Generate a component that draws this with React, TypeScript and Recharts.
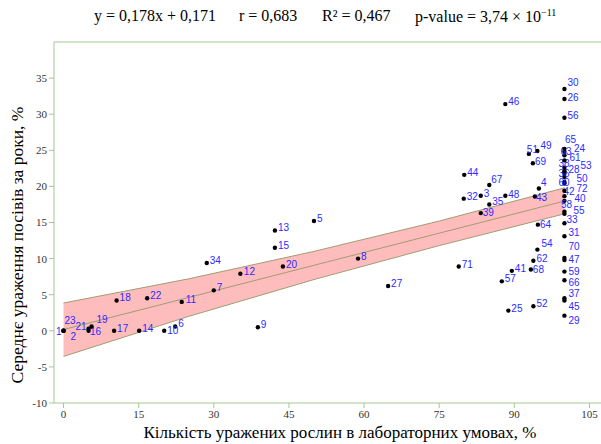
import React from "react"
import {
    Area,
    ComposedChart,
    Line,
    ReferenceLine,
    Scatter,
    XAxis,
    YAxis,
} from "recharts"

// ids of the samples, x = lab infection (%), y = mean field infection (%)
const ids = [
    1, 2, 3, 4, 5, 6, 7, 8, 9, 10, 11, 12, 13, 14, 15, 16, 17, 18, 19, 20, 21, 22, 23, 24,
    25, 26, 27, 28, 29, 30, 31, 32, 33, 34, 35, 36, 37, 38, 39, 40, 41, 42, 43, 44, 45, 46, 47, 48,
    49, 50, 51, 52, 53, 54, 55, 56, 57, 58, 59, 60, 61, 62, 63, 64, 65, 66, 67, 68, 69, 70, 71, 72,
]
const labX = [
    0, 0, 83.3, 94.9, 50.0, 22.3, 30.0, 58.8, 38.8, 20.1, 23.6, 35.3, 42.2, 15.1, 42.2, 5.0, 10.1, 10.6, 5.6, 43.8, 5.0, 16.7, 0, 100,
    88.8, 100, 64.8, 100, 100, 100, 100, 79.9, 100, 28.6, 85.0, 100, 100, 100, 83.3, 100, 89.5, 100, 94.1, 80.0, 100, 88.2, 100, 88.2,
    94.6, 100, 92.9, 93.8, 100, 94.6, 100, 100, 87.5, 100, 100, 100, 100, 93.8, 100, 94.7, 100, 100, 85.0, 93.3, 93.7, 100, 78.9, 100,
]
const fieldY = [
    0, 0, 18.7, 19.7, 15.2, 0.6, 5.6, 10.0, 0.5, 0, 4.0, 7.9, 13.9, 0, 11.5, 0, 0, 4.2, 0.6, 8.9, 0.3, 4.5, 0, 24.8,
    2.8, 32.1, 6.2, 21.8, 2.1, 33.5, 13.1, 18.3, 14.9, 9.4, 17.5, 21.3, 4.5, 22.6, 16.3, 18.0, 8.3, 18.65, 18.6, 21.6, 4.2, 31.4, 9.8, 18.7,
    24.9, 20.6, 24.5, 3.4, 22.1, 11.25, 16.2, 29.5, 6.85, 16.5, 8.2, 20.4, 23.6, 9.7, 24.3, 14.7, 25.2, 7.0, 20.2, 8.5, 23.2, 10.1, 8.9, 19.4,
]

// regression line and its confidence band
const bandX = [0, 25, 50, 75, 100]
const fitY = [0.17, 4.62, 9.07, 13.52, 17.97]
const bandLow = [-3.55, 2.0, 7.1, 11.8, 16.2]
const bandHigh = [3.85, 7.2, 11.0, 15.2, 19.8]

const xTicks = [0, 15, 30, 45, 60, 75, 90, 105]
const yTicks = [-10, -5, 0, 5, 10, 15, 20, 25, 30, 35]

const points = ids.map((id, i) => ({ id, x: labX[i], y: fieldY[i] }))
const bandRows = bandX.map((x, i) => ({ x, fit: fitY[i], band: [bandLow[i], bandHigh[i]] }))

// label nudges [dx, dy, anchor] for crowded spots
const nudge: Record<number, [number, number, string?]> = {
    1: [-2, 4, "end"], 2: [7, 9], 23: [1, -7], 21: [-2, 1, "end"], 19: [5, -3], 16: [1.5, 4.5],
    10: [3, 3], 11: [4, 1], 12: [3.5, 1], 15: [3, 1.5], 20: [3, 1.5],
    65: [0.5, -5.6], 24: [9.5, 0], 63: [-4, 0], 61: [5, 1], 38: [-6, -1], 53: [16, -2], 28: [4, 0],
    36: [-6, 0], 50: [12, 0], 60: [-6, 2], 72: [12, 1], 42: [-1, -1], 40: [10, 1], 58: [-3.5, -4],
    55: [9, 0], 33: [2, 0], 31: [4, 0], 70: [4, -8], 47: [4, 3], 59: [4, 3], 66: [4, 6], 37: [4, -1],
    45: [4, 10], 29: [4, 8], 30: [3, -3], 26: [3, 2], 4: [2, -2.6], 48: [3, 2], 43: [1, 4],
    51: [-2, -1], 49: [3, -2], 69: [2, 2], 64: [2, 3], 54: [4, -3], 68: [2, 4], 39: [2, 3], 67: [2, -2],
}

const axisColor = "#a7c78f"
const serif = "'Liberation Serif', 'Times New Roman', serif"

function Dot(props: any) {
    const { cx, cy, payload } = props
    const [dx, dy, anchor] = nudge[payload.id] || [3, 1]
    return (
        <g>
            <circle cx={cx} cy={cy} r={2.2} fill="#000" />
            <text
                x={cx + dx}
                y={cy + dy}
                textAnchor={(anchor as any) || "start"}
                fontFamily="'Liberation Sans', Arial, sans-serif"
                fontSize={10}
                fill="#2b2bff"
            >
                {payload.id}
            </text>
        </g>
    )
}

export default function App() {
    return (
        <div style={{ position: "fixed", top: 0, left: 0, width: 601, height: 444, overflow: "hidden", background: "#fff" }}>
            <ComposedChart
                width={601}
                height={444}
                data={bandRows}
                margin={{ top: 42, right: 0, bottom: 0, left: 0 }}
            >
                <XAxis
                    type="number"
                    dataKey="x"
                    domain={[-1.9, 107.3]}
                    ticks={xTicks}
                    allowDataOverflow
                    height={41}
                    stroke={axisColor}
                    tickSize={5}
                    tick={{ fill: "#333", fontSize: 11, fontFamily: serif }}
                />
                <YAxis
                    type="number"
                    domain={[-10, 40]}
                    ticks={yTicks}
                    allowDataOverflow
                    width={54}
                    stroke={axisColor}
                    tickSize={5}
                    tick={{ fill: "#333", fontSize: 11, fontFamily: serif }}
                />
                <ReferenceLine y={40} stroke={axisColor} />
                <Area
                    dataKey="band"
                    type="linear"
                    fill="#ffbcbc"
                    fillOpacity={1}
                    stroke="#a09c74"
                    strokeWidth={1}
                    isAnimationActive={false}
                />
                <Line
                    dataKey="fit"
                    type="linear"
                    stroke="#a09c74"
                    strokeWidth={1}
                    dot={false}
                    isAnimationActive={false}
                />
                <Scatter data={points} dataKey="y" shape={<Dot />} isAnimationActive={false} />
            </ComposedChart>

            <div style={{ position: "absolute", top: 7, left: 0, width: 601, fontFamily: serif, fontSize: 16, color: "#000", whiteSpace: "nowrap" }}>
                <span style={{ position: "absolute", left: 94 }}>y = 0,178x + 0,171</span>
                <span style={{ position: "absolute", left: 239 }}>r = 0,683</span>
                <span style={{ position: "absolute", left: 322 }}>R² = 0,467</span>
                <span style={{ position: "absolute", left: 415 }}>
                    p-value = 3,74 × 10<sup style={{ fontSize: 10 }}>−11</sup>
                </span>
            </div>
            <div style={{ position: "absolute", top: 423, left: 0, width: 680, textAlign: "center", fontFamily: serif, fontSize: 17, lineHeight: "19px", color: "#000", whiteSpace: "nowrap" }}>
                Кількість уражених рослин в лабораторних умовах, %
            </div>
            <div
                style={{
                    position: "absolute",
                    left: 17,
                    top: 245,
                    transform: "translate(-50%, -50%) rotate(-90deg)",
                    fontFamily: serif,
                    fontSize: 17.5,
                    color: "#000",
                    whiteSpace: "nowrap",
                }}
            >
                Середнє ураження посівів за роки, %
            </div>
        </div>
    )
}
